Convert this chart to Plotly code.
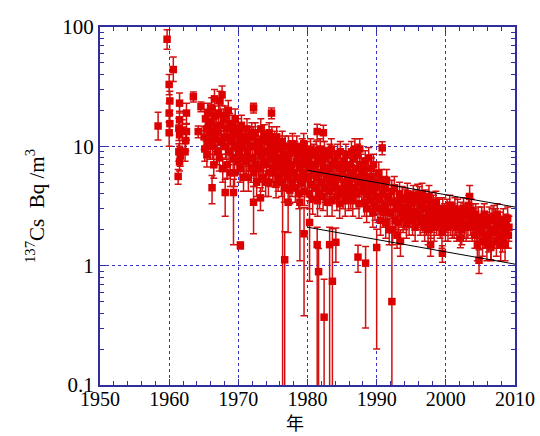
import plotly.graph_objects as go

# ---- dense monitoring series (decimal year, Cs-137 Bq/m3, error) ----
years = [
    1965.05, 1965.15, 1965.25, 1965.35, 1965.45, 1965.55, 1965.65, 1965.75, 1965.85, 1965.95,
    1966.05, 1966.15, 1966.25, 1966.35, 1966.45, 1966.55, 1966.65, 1966.75, 1966.85, 1966.95,
    1967.05, 1967.15, 1967.25, 1967.35, 1967.45, 1967.55, 1967.65, 1967.75, 1967.85, 1967.95,
    1968.05, 1968.15, 1968.25, 1968.35, 1968.45, 1968.55, 1968.65, 1968.75, 1968.85, 1968.95,
    1969.05, 1969.15, 1969.25, 1969.35, 1969.45, 1969.55, 1969.65, 1969.75, 1969.85, 1969.95,
    1970.05, 1970.15, 1970.25, 1970.35, 1970.45, 1970.55, 1970.65, 1970.75, 1970.85, 1970.95,
    1971.05, 1971.15, 1971.25, 1971.35, 1971.45, 1971.55, 1971.65, 1971.75, 1971.85, 1971.95,
    1972.05, 1972.15, 1972.25, 1972.35, 1972.45, 1972.55, 1972.65, 1972.75, 1972.85, 1972.95,
    1973.05, 1973.15, 1973.25, 1973.35, 1973.45, 1973.55, 1973.65, 1973.75, 1973.85, 1973.95,
    1974.05, 1974.15, 1974.25, 1974.35, 1974.45, 1974.55, 1974.65, 1974.75, 1974.85, 1974.95,
    1975.05, 1975.15, 1975.25, 1975.35, 1975.45, 1975.55, 1975.65, 1975.75, 1975.85, 1975.95,
    1976.05, 1976.15, 1976.25, 1976.35, 1976.45, 1976.55, 1976.65, 1976.75, 1976.85, 1976.95,
    1977.05, 1977.15, 1977.25, 1977.35, 1977.45, 1977.55, 1977.65, 1977.75, 1977.85, 1977.95,
    1978.05, 1978.15, 1978.25, 1978.35, 1978.45, 1978.55, 1978.65, 1978.75, 1978.85, 1978.95,
    1979.05, 1979.15, 1979.25, 1979.35, 1979.45, 1979.55, 1979.65, 1979.75, 1979.85, 1979.95,
    1980.05, 1980.15, 1980.25, 1980.35, 1980.45, 1980.55, 1980.65, 1980.75, 1980.85, 1980.95,
    1981.05, 1981.15, 1981.25, 1981.35, 1981.45, 1981.55, 1981.65, 1981.75, 1981.85, 1981.95,
    1982.05, 1982.15, 1982.25, 1982.35, 1982.45, 1982.55, 1982.65, 1982.75, 1982.85, 1982.95,
    1983.05, 1983.15, 1983.25, 1983.35, 1983.45, 1983.55, 1983.65, 1983.75, 1983.85, 1983.95,
    1984.05, 1984.15, 1984.25, 1984.35, 1984.45, 1984.55, 1984.65, 1984.75, 1984.85, 1984.95,
    1985.05, 1985.15, 1985.25, 1985.35, 1985.45, 1985.55, 1985.65, 1985.75, 1985.85, 1985.95,
    1986.05, 1986.15, 1986.25, 1986.35, 1986.45, 1986.55, 1986.65, 1986.75, 1986.85, 1986.95,
    1987.05, 1987.15, 1987.25, 1987.35, 1987.45, 1987.55, 1987.65, 1987.75, 1987.85, 1987.95,
    1988.05, 1988.15, 1988.25, 1988.35, 1988.45, 1988.55, 1988.65, 1988.75, 1988.85, 1988.95,
    1989.05, 1989.15, 1989.25, 1989.35, 1989.45, 1989.55, 1989.65, 1989.75, 1989.85, 1989.95,
    1990.06, 1990.19, 1990.31, 1990.44, 1990.56, 1990.69, 1990.81, 1990.94,
    1991.06, 1991.19, 1991.31, 1991.44, 1991.56, 1991.69, 1991.81, 1991.94,
    1992.06, 1992.19, 1992.31, 1992.44, 1992.56, 1992.69, 1992.81, 1992.94,
    1993.06, 1993.19, 1993.31, 1993.44, 1993.56, 1993.69, 1993.81, 1993.94,
    1994.06, 1994.19, 1994.31, 1994.44, 1994.56, 1994.69, 1994.81, 1994.94,
    1995.06, 1995.19, 1995.31, 1995.44, 1995.56, 1995.69, 1995.81, 1995.94,
    1996.06, 1996.19, 1996.31, 1996.44, 1996.56, 1996.69, 1996.81, 1996.94,
    1997.06, 1997.19, 1997.31, 1997.44, 1997.56, 1997.69, 1997.81, 1997.94,
    1998.06, 1998.19, 1998.31, 1998.44, 1998.56, 1998.69, 1998.81, 1998.94,
    1999.06, 1999.19, 1999.31, 1999.44, 1999.56, 1999.69, 1999.81, 1999.94,
    2000.06, 2000.19, 2000.31, 2000.44, 2000.56, 2000.69, 2000.81, 2000.94,
    2001.06, 2001.19, 2001.31, 2001.44, 2001.56, 2001.69, 2001.81, 2001.94,
    2002.06, 2002.19, 2002.31, 2002.44, 2002.56, 2002.69, 2002.81, 2002.94,
    2003.06, 2003.19, 2003.31, 2003.44, 2003.56, 2003.69, 2003.81, 2003.94,
    2004.06, 2004.19, 2004.31, 2004.44, 2004.56, 2004.69, 2004.81, 2004.94,
    2005.06, 2005.19, 2005.31, 2005.44, 2005.56, 2005.69, 2005.81, 2005.94,
    2006.06, 2006.19, 2006.31, 2006.44, 2006.56, 2006.69, 2006.81, 2006.94,
    2007.06, 2007.19, 2007.31, 2007.44, 2007.56, 2007.69, 2007.81, 2007.94,
    2008.06, 2008.19, 2008.31, 2008.44, 2008.56, 2008.69, 2008.81, 2008.94,
    2009.04, 2009.12,
]

cs137 = [
    12, 9.5, 17, 14, 8.5, 19, 11, 15, 13, 10,
    16, 21, 10, 13, 7, 25, 18, 11.5, 14.5, 9,
    13, 19, 8, 24, 15, 11, 27, 6.5, 17, 12,
    18, 10, 14, 7, 12, 20, 9, 15.5, 6, 11.5,
    11, 15, 8, 13, 6, 17, 10, 12.5, 7.5, 14,
    9, 13, 6.5, 11, 15, 8, 10, 5.5, 12, 7.5,
    11, 7.5, 14, 9, 5.5, 12, 8, 10, 6.5, 13,
    8, 12, 6, 10, 13, 7, 5, 9, 11, 6.5,
    10, 6.5, 14, 8.5, 5.5, 11, 7.5, 12.5, 9, 5,
    7, 11, 9, 5, 13, 6, 10, 8, 12, 6.5,
    9, 6, 11, 7.5, 4.8, 12, 8, 5.5, 10, 6.5,
    6.5, 9.5, 5, 11, 7.5, 8.5, 4.5, 10, 6, 7,
    8, 5.5, 10, 6.5, 4.3, 9, 7, 5, 10.5, 6,
    6, 9, 4.5, 7.5, 10, 5.5, 8, 4, 6.5, 8.5,
    7.5, 5, 9.5, 6, 10.5, 4.2, 8, 5.5, 7, 9,
    5.5, 8, 4, 6.5, 9.5, 4.8, 7, 3.6, 6, 8.5,
    7, 4.5, 9, 5.5, 3.5, 8, 6, 4, 9.5, 5,
    5, 7.5, 3.8, 6.5, 9, 4.5, 8, 5.5, 3.4, 6,
    6.5, 4.2, 8.5, 5, 9.5, 3.5, 7, 5.5, 4.5, 7.5,
    4.8, 7, 3.8, 8.5, 5.5, 6.5, 3.3, 9, 4.3, 6,
    6, 4, 7.5, 5, 3.5, 8.5, 4.5, 6.5, 5.5, 3.8,
    5, 7, 4, 9, 6, 3.5, 8, 4.5, 9.5, 5.5,
    6.5, 4, 8.5, 5, 3.3, 9.5, 5.5, 7, 4.2, 6,
    4.5, 6.5, 3.4, 7.5, 5, 3, 5.5, 4, 8, 4.8,
    5.5, 3.5, 6.5, 4.2, 2.8, 7, 4.8, 3.2, 5, 3.8,
    4.5, 3, 6, 3.6, 2.4, 5.2, 4, 2.8,
    3.2, 4.5, 2.3, 5.2, 2.8, 3.8, 2.0, 3.4,
    2.8, 4.2, 2, 3.4, 4.5, 2.4, 3, 1.8,
    3.4, 2.3, 4, 1.6, 2.8, 3.7, 2.5, 3.1,
    2.6, 3.6, 2.2, 4, 3, 2.4, 3.4, 2.8,
    3.3, 2.4, 3.8, 2.8, 2.1, 3.5, 2.6, 3.9,
    2.7, 3.7, 2.3, 3.2, 4, 2.5, 3, 2.1,
    3.5, 2.4, 3, 2, 3.8, 2.7, 2.2, 3.3,
    2.5, 3.2, 2.1, 2.8, 3.4, 2.3, 3, 2.6,
    2.9, 2.2, 2.6, 1.9, 3, 2.4, 2.7, 2.1,
    2.5, 2.9, 2.1, 2.7, 3.2, 2.3, 2.8, 2.2,
    2.7, 2.2, 3, 2.4, 2.1, 2.9, 2.5, 2.3,
    2.4, 2.8, 2, 2.6, 3, 2.2, 2.7, 2.1,
    2.6, 2.2, 3.2, 3.8, 2.4, 2.9, 2.1, 2.7,
    2.4, 1.8, 2.7, 2.1, 1.5, 2.5, 1.9, 2.2,
    2, 2.5, 1.6, 2.2, 2.7, 1.8, 2.3, 1.5,
    2.2, 1.7, 2.5, 1.9, 1.5, 2.4, 2, 2.6,
    1.9, 2.4, 1.6, 2.7, 2.1, 1.8, 2.3, 1.5,
    2.1, 1.7, 2.4, 1.9, 1.5, 2.2, 1.8, 2.5,
    1.8, 2.1,
]

cs137_err = [
    2.6, 2, 3.5, 3, 1.8, 4, 2.4, 3.2, 2.8, 2.2,
    3.4, 4.5, 2.2, 2.8, 1.6, 5, 3.8, 2.5, 3, 2,
    2.8, 4, 1.8, 5, 3.2, 2.4, 5, 1.5, 3.6, 2.6,
    3.8, 2.2, 3, 1.6, 2.6, 4.2, 2, 3.3, 1.4, 2.5,
    2.4, 3.2, 1.8, 2.8, 1.4, 3.6, 2.2, 2.7, 1.7, 3,
    2, 2.8, 1.5, 2.4, 3.2, 1.8, 2.2, 1.3, 2.6, 1.7,
    2.4, 1.7, 3, 2, 1.3, 2.6, 1.8, 2.2, 1.5, 2.8,
    1.8, 2.6, 1.4, 2.2, 2.8, 1.6, 1.2, 2, 2.4, 1.5,
    2.2, 1.5, 3, 1.9, 1.3, 2.4, 1.7, 2.7, 2, 1.2,
    1.6, 2.4, 2, 1.2, 2.8, 1.4, 2.2, 1.8, 2.6, 1.5,
    2, 1.4, 2.4, 1.7, 1.1, 2.6, 1.8, 1.3, 2.2, 1.5,
    1.5, 2.1, 1.2, 2.4, 1.7, 1.9, 1.1, 2.2, 1.4, 1.6,
    1.8, 1.3, 2.2, 1.5, 1, 2, 1.6, 1.2, 2.3, 1.4,
    1.4, 2, 1.1, 1.7, 2.2, 1.3, 1.8, 1, 1.5, 1.9,
    1.7, 1.2, 2.1, 1.4, 2.3, 1, 1.8, 1.3, 1.6, 2,
    1.3, 1.8, 1, 1.5, 2.1, 1.1, 1.6, 0.9, 1.4, 1.9,
    1.6, 1.1, 2, 1.3, 0.9, 1.8, 1.4, 1, 2.1, 1.2,
    1.2, 1.7, 0.9, 1.5, 2, 1.1, 1.8, 1.3, 0.8, 1.4,
    1.5, 1, 1.9, 1.2, 2.1, 0.9, 1.6, 1.3, 1.1, 1.7,
    1.1, 1.6, 0.9, 1.9, 1.3, 1.5, 0.8, 2, 1, 1.4,
    1.4, 1, 1.7, 1.2, 0.9, 1.9, 1.1, 1.5, 1.3, 0.9,
    1.2, 1.6, 1, 2, 1.4, 0.9, 1.8, 1.1, 2.1, 1.3,
    1.5, 1, 1.9, 1.2, 0.8, 2.1, 1.3, 1.6, 1, 1.4,
    1.1, 1.5, 0.8, 1.7, 1.2, 0.7, 1.3, 1, 1.8, 1.1,
    1.3, 0.9, 1.5, 1, 0.7, 1.6, 1.1, 0.8, 1.2, 0.9,
    1.1, 0.7, 1.4, 0.9, 0.6, 1.2, 1, 0.7,
    0.8, 1.1, 0.6, 1.2, 0.7, 0.9, 0.5, 0.8,
    0.7, 1, 0.5, 0.8, 1.1, 0.6, 0.7, 0.4,
    0.8, 0.6, 1, 0.4, 0.7, 0.9, 0.6, 0.7,
    0.6, 0.8, 0.5, 0.9, 0.7, 0.6, 0.8, 0.7,
    0.8, 0.6, 0.9, 0.7, 0.5, 0.8, 0.6, 0.9,
    0.6, 0.9, 0.5, 0.7, 0.9, 0.6, 0.7, 0.5,
    0.8, 0.6, 0.7, 0.5, 0.9, 0.6, 0.5, 0.8,
    0.6, 0.7, 0.5, 0.7, 0.8, 0.5, 0.7, 0.6,
    0.7, 0.5, 0.6, 0.5, 0.7, 0.6, 0.6, 0.5,
    0.6, 0.7, 0.5, 0.6, 0.7, 0.5, 0.6, 0.5,
    0.6, 0.5, 0.7, 0.6, 0.5, 0.7, 0.6, 0.5,
    0.5, 0.6, 0.5, 0.6, 0.7, 0.5, 0.6, 0.5,
    0.6, 0.5, 0.7, 0.9, 0.6, 0.7, 0.5, 0.6,
    0.6, 0.4, 0.6, 0.5, 0.4, 0.6, 0.5, 0.5,
    0.5, 0.6, 0.4, 0.5, 0.6, 0.4, 0.5, 0.4,
    0.5, 0.4, 0.6, 0.5, 0.4, 0.6, 0.5, 0.6,
    0.5, 0.6, 0.4, 0.6, 0.5, 0.4, 0.5, 0.4,
    0.5, 0.4, 0.6, 0.5, 0.4, 0.5, 0.4, 0.6,
    0.4, 0.5,
]

# ---- early sparse samples and isolated points (asymmetric errors) ----
sparse_year = [
    1958.4, 1959.7, 1960.0, 1960.1, 1960.0, 1960.1, 1960.0, 1960.6,
    1961.5, 1961.5, 1961.4, 1961.5, 1961.4, 1961.5, 1961.3, 1961.9,
    1962.5, 1962.5, 1962.4, 1961.6, 1962.3, 1963.5, 1964.2, 1964.6,
    1966.2, 1968.1, 1969.3, 1970.3, 1972.2, 1973.2, 1972.2, 1974.8,
    1976.7, 1976.4, 1977.2, 1978.9, 1979.5, 1980.3, 1981.4, 1981.4,
    1982.3, 1981.6, 1982.4, 1983.2, 1983.6, 1984.1, 1987.3, 1988.4,
    1990.0, 1990.8, 1992.2, 1997.8, 1999.5, 2002.1, 2004.8, 2006.5,
]
sparse_val = [
    14.8, 79, 33, 24, 19, 15.5, 13, 44,
    23, 16.7, 14.2, 12.5, 9, 7.4, 5.6, 13.7,
    19, 13.3, 11.2, 8.3, 9, 26, 13.3, 21.5,
    4.5, 4.1, 4.1, 1.48, 3.4, 3.7, 21, 19,
    1.12, 5, 3.4, 3.4, 1.85, 2.3, 1.5, 13.3,
    13, 0.89, 0.37, 1.5, 0.74, 1.57, 1.18, 1.05,
    1.42, 9.7, 0.5, 1.5, 1.27, 1.71, 1.11, 1.42,
]
sparse_err_lo = [
    3.5, 14, 6, 4, 3, 3, 3, 9,
    4, 3, 3, 2.5, 1.5, 1.2, 0.8, 2.5,
    3.5, 2, 2, 1.5, 1.5, 2.5, 1.5, 2,
    1.2, 1.5, 2.6, 0.1, 1.55, 0.8, 2, 2,
    1.11, 4.99, 1.5, 2.3, 1.47, 1.56, 1.49, 2,
    2, 0.88, 0.36, 1.49, 0.73, 0.5, 0.3, 0.75,
    1.22, 1.2, 0.49, 0.3, 0.2, 0.3, 0.25, 0.3,
]
sparse_err_hi = [
    4.5, 16, 7, 5, 4, 3, 3, 12,
    5, 3, 3, 2.5, 1.5, 1.2, 0.8, 3,
    4, 2, 2, 1.5, 1.5, 2.5, 1.5, 2,
    1.2, 1.2, 1.2, 0.1, 1.2, 0.8, 2, 2,
    0.8, 1.5, 1.2, 1.2, 1.2, 1.2, 0.6, 2,
    2, 0.5, 0.4, 0.6, 1.3, 0.5, 0.3, 0.4,
    0.6, 1.2, 1.5, 0.3, 0.2, 0.3, 0.25, 0.3,
]

# ---- two guide lines (start / end values) ----
line_years = [1980, 2010]
upper_line = [6.3, 3.1]
lower_line = [2.1, 1.03]

RED = "#dd0000"
BAR = "#d21010"
AX = "#2e2e9e"
GRID = "#3535c0"

fig = go.Figure()
marker = dict(symbol="square", size=7.5, color=RED, line=dict(width=0))

fig.add_trace(go.Scatter(
    x=sparse_year, y=sparse_val, mode="markers", marker=marker,
    error_y=dict(type="data", symmetric=False, array=sparse_err_hi,
                 arrayminus=sparse_err_lo, color=BAR, thickness=1.5, width=3.5),
))
fig.add_trace(go.Scatter(
    x=years, y=cs137, mode="markers", marker=marker,
    error_y=dict(type="data", array=cs137_err, color=BAR, thickness=1.5, width=3.5),
))
for ln in (upper_line, lower_line):
    fig.add_trace(go.Scatter(x=line_years, y=ln, mode="lines",
                             line=dict(color="black", width=1)))

fig.update_layout(
    width=540, height=436,
    margin=dict(l=100, r=25, t=27, b=51),
    paper_bgcolor="white", plot_bgcolor="white",
    showlegend=False,
    font=dict(family="Liberation Serif", size=20, color="black"),
    annotations=[dict(
        text="年", xref="paper", yref="paper", x=0.47, y=-0.103,
        xanchor="center", yanchor="middle", showarrow=False,
        font=dict(family="Noto Sans CJK JP", size=18, color="black"),
    )],
)
fig.update_xaxes(
    range=[1950, 2010], tick0=1950, dtick=10,
    ticks="inside", ticklen=6, tickcolor=AX, tickwidth=1,
    tickfont=dict(size=20), automargin=False, ticklabelstandoff=-5,
    showline=True, linecolor=AX, linewidth=2, mirror="ticks",
    showgrid=True, gridcolor=GRID, griddash="dot", gridwidth=1,
    zeroline=False,
    minor=dict(dtick=2, ticks="inside", ticklen=4, tickcolor=AX, showgrid=False),
)
fig.update_yaxes(
    type="log", range=[-1, 2], dtick=1,
    ticks="inside", ticklen=6, tickcolor=AX, tickwidth=1,
    tickfont=dict(size=21), automargin=False,
    showline=True, linecolor=AX, linewidth=2, mirror="ticks",
    showgrid=True, gridcolor=GRID, griddash="dot", gridwidth=1,
    zeroline=False,
    minor=dict(dtick="D1", ticks="inside", ticklen=4, tickcolor=AX, showgrid=False),
    title=dict(text="<sup>137</sup>Cs  Bq /m<sup>3</sup>", font=dict(size=21), standoff=12),
)

fig.write_html("out.html")
